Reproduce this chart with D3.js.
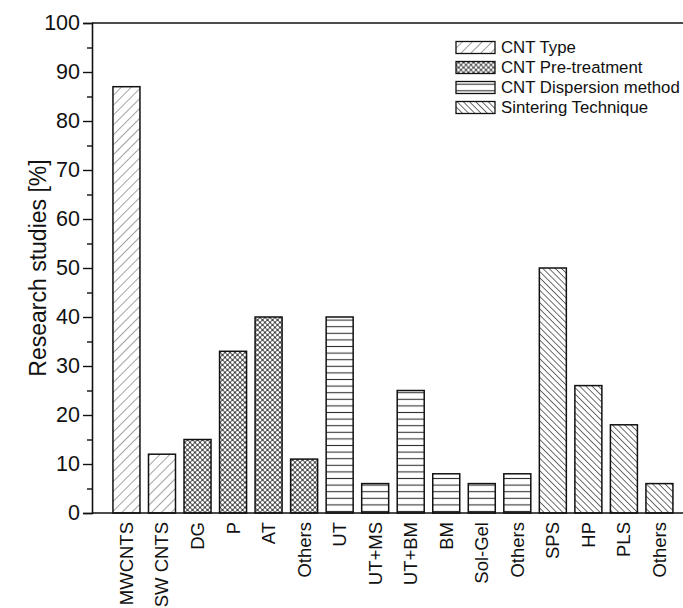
<!DOCTYPE html>
<html>
<head>
<meta charset="utf-8">
<script src="https://cdn.jsdelivr.net/npm/d3@7"></script>
<style>
  body { margin: 0; background: #fff; }
  svg { display: block; font-family: "Liberation Sans", Arial, sans-serif; }
</style>
</head>
<body>
<script>
// data
const labels = ["MWCNTS","SW CNTS","DG","P","AT","Others","UT","UT+MS","UT+BM","BM","Sol-Gel","Others","SPS","HP","PLS","Others"];
const values = [87, 12, 15, 33, 40, 11, 40, 6, 25, 8, 6, 8, 50, 26, 18, 6];
const groupOf = [0, 0, 1, 1, 1, 1, 2, 2, 2, 2, 2, 2, 3, 3, 3, 3];
const groupNames = ["CNT Type", "CNT Pre-treatment", "CNT Dispersion method", "Sintering Technique"];
const yTicks = [0, 10, 20, 30, 40, 50, 60, 70, 80, 90, 100];
const yMinor = [5, 15, 25, 35, 45, 55, 65, 75, 85, 95];

const W = 683, H = 608;
const plotLeft = 92, plotRight = 683, plotTop = 23, plotBottom = 513;

const svg = d3.select("body").append("svg")
  .attr("width", W).attr("height", H);

// hatch patterns
const defs = svg.append("defs");
const p0 = defs.append("pattern").attr("id", "pat0").attr("patternUnits", "userSpaceOnUse")
  .attr("width", 7).attr("height", 7).attr("patternTransform", "rotate(45)");
p0.append("rect").attr("width", 7).attr("height", 7).attr("fill", "#fff");
p0.append("line").attr("x1", 0).attr("y1", 0).attr("x2", 0).attr("y2", 7)
  .attr("stroke", "#555").attr("stroke-width", 1.1);

const p1 = defs.append("pattern").attr("id", "pat1").attr("patternUnits", "userSpaceOnUse")
  .attr("width", 5).attr("height", 5);
p1.append("rect").attr("width", 5).attr("height", 5).attr("fill", "#4a4a4a");
[[0,0],[5,0],[0,5],[5,5],[2.5,2.5]].forEach(c => {
  p1.append("circle").attr("cx", c[0]).attr("cy", c[1]).attr("r", 1.45).attr("fill", "#fff");
});

const p2 = defs.append("pattern").attr("id", "pat2").attr("patternUnits", "userSpaceOnUse")
  .attr("width", 10).attr("height", 6.6);
p2.append("rect").attr("width", 10).attr("height", 6.6).attr("fill", "#fff");
p2.append("line").attr("x1", 0).attr("y1", 3.3).attr("x2", 10).attr("y2", 3.3)
  .attr("stroke", "#333").attr("stroke-width", 1.1);

const p3 = defs.append("pattern").attr("id", "pat3").attr("patternUnits", "userSpaceOnUse")
  .attr("width", 4.4).attr("height", 4.4).attr("patternTransform", "rotate(-45)");
p3.append("rect").attr("width", 4.4).attr("height", 4.4).attr("fill", "#fff");
p3.append("line").attr("x1", 0).attr("y1", 0).attr("x2", 0).attr("y2", 4.4)
  .attr("stroke", "#222").attr("stroke-width", 1.3);

const x = d3.scaleBand()
  .domain(d3.range(labels.length))
  .range([108.7, 677.2])
  .paddingInner(0.24)
  .paddingOuter(0.12);
const y = d3.scaleLinear().domain([0, 100]).range([plotBottom, plotTop]);

// bars
svg.selectAll("rect.bar")
  .data(values)
  .enter()
  .append("rect")
  .attr("class", "bar")
  .attr("x", (d, i) => x(i))
  .attr("y", d => y(d))
  .attr("width", x.bandwidth())
  .attr("height", d => y(0) - y(d))
  .attr("fill", (d, i) => `url(#pat${groupOf[i]})`)
  .attr("stroke", "#111")
  .attr("stroke-width", 1.5);

// frame lines (top and bottom reach the right edge)
svg.append("line").attr("x1", plotLeft).attr("x2", plotRight).attr("y1", plotTop).attr("y2", plotTop)
  .attr("stroke", "#111").attr("stroke-width", 1.6);
svg.append("line").attr("x1", plotLeft).attr("x2", plotRight).attr("y1", plotBottom).attr("y2", plotBottom)
  .attr("stroke", "#111").attr("stroke-width", 1.6);

// y axis
const yAxis = svg.append("g").attr("transform", `translate(${plotLeft},0)`)
  .call(d3.axisLeft(y).tickValues(yTicks).tickSize(9).tickPadding(3).tickFormat(d3.format("d")));
yAxis.select(".domain").attr("stroke", "#111").attr("stroke-width", 1.6);
yAxis.selectAll(".tick line").attr("stroke", "#111").attr("stroke-width", 1.4);
yAxis.selectAll(".tick text").attr("font-size", 21.5).attr("fill", "#111")
  .attr("font-family", "Liberation Sans, Arial, sans-serif");

const yAxisMinor = svg.append("g").attr("transform", `translate(${plotLeft},0)`)
  .call(d3.axisLeft(y).tickValues(yMinor).tickSize(5).tickFormat(""));
yAxisMinor.select(".domain").remove();
yAxisMinor.selectAll(".tick line").attr("stroke", "#111").attr("stroke-width", 1.4);

// x axis labels
const xAxis = svg.append("g").attr("transform", `translate(0,${plotBottom})`)
  .call(d3.axisBottom(x).tickSize(0).tickFormat(i => labels[i]));
xAxis.select(".domain").remove();
xAxis.selectAll(".tick text")
  .attr("transform", "rotate(-90)")
  .attr("x", -9)
  .attr("y", 0)
  .attr("dy", "0.35em")
  .style("text-anchor", "end")
  .attr("font-size", 18.5)
  .attr("fill", "#111")
  .attr("font-family", "Liberation Sans, Arial, sans-serif");

// y title
svg.append("text")
  .attr("transform", `translate(38,${(plotTop + plotBottom) / 2}) rotate(-90)`)
  .attr("text-anchor", "middle")
  .attr("dy", "0.35em")
  .attr("font-size", 23)
  .attr("fill", "#111")
  .text("Research studies [%]");

// legend
const legend = svg.append("g").attr("transform", "translate(456,47.5)");
groupNames.forEach((name, k) => {
  const row = legend.append("g").attr("transform", `translate(0,${k * 20})`);
  row.append("rect").attr("x", 0).attr("y", -6).attr("width", 39).attr("height", 12)
    .attr("fill", `url(#pat${k})`).attr("stroke", "#111").attr("stroke-width", 1.3);
  row.append("text").attr("x", 45).attr("y", 0).attr("dy", "0.35em")
    .attr("font-size", 16.8).attr("fill", "#111").text(name);
});
</script>
</body>
</html>
